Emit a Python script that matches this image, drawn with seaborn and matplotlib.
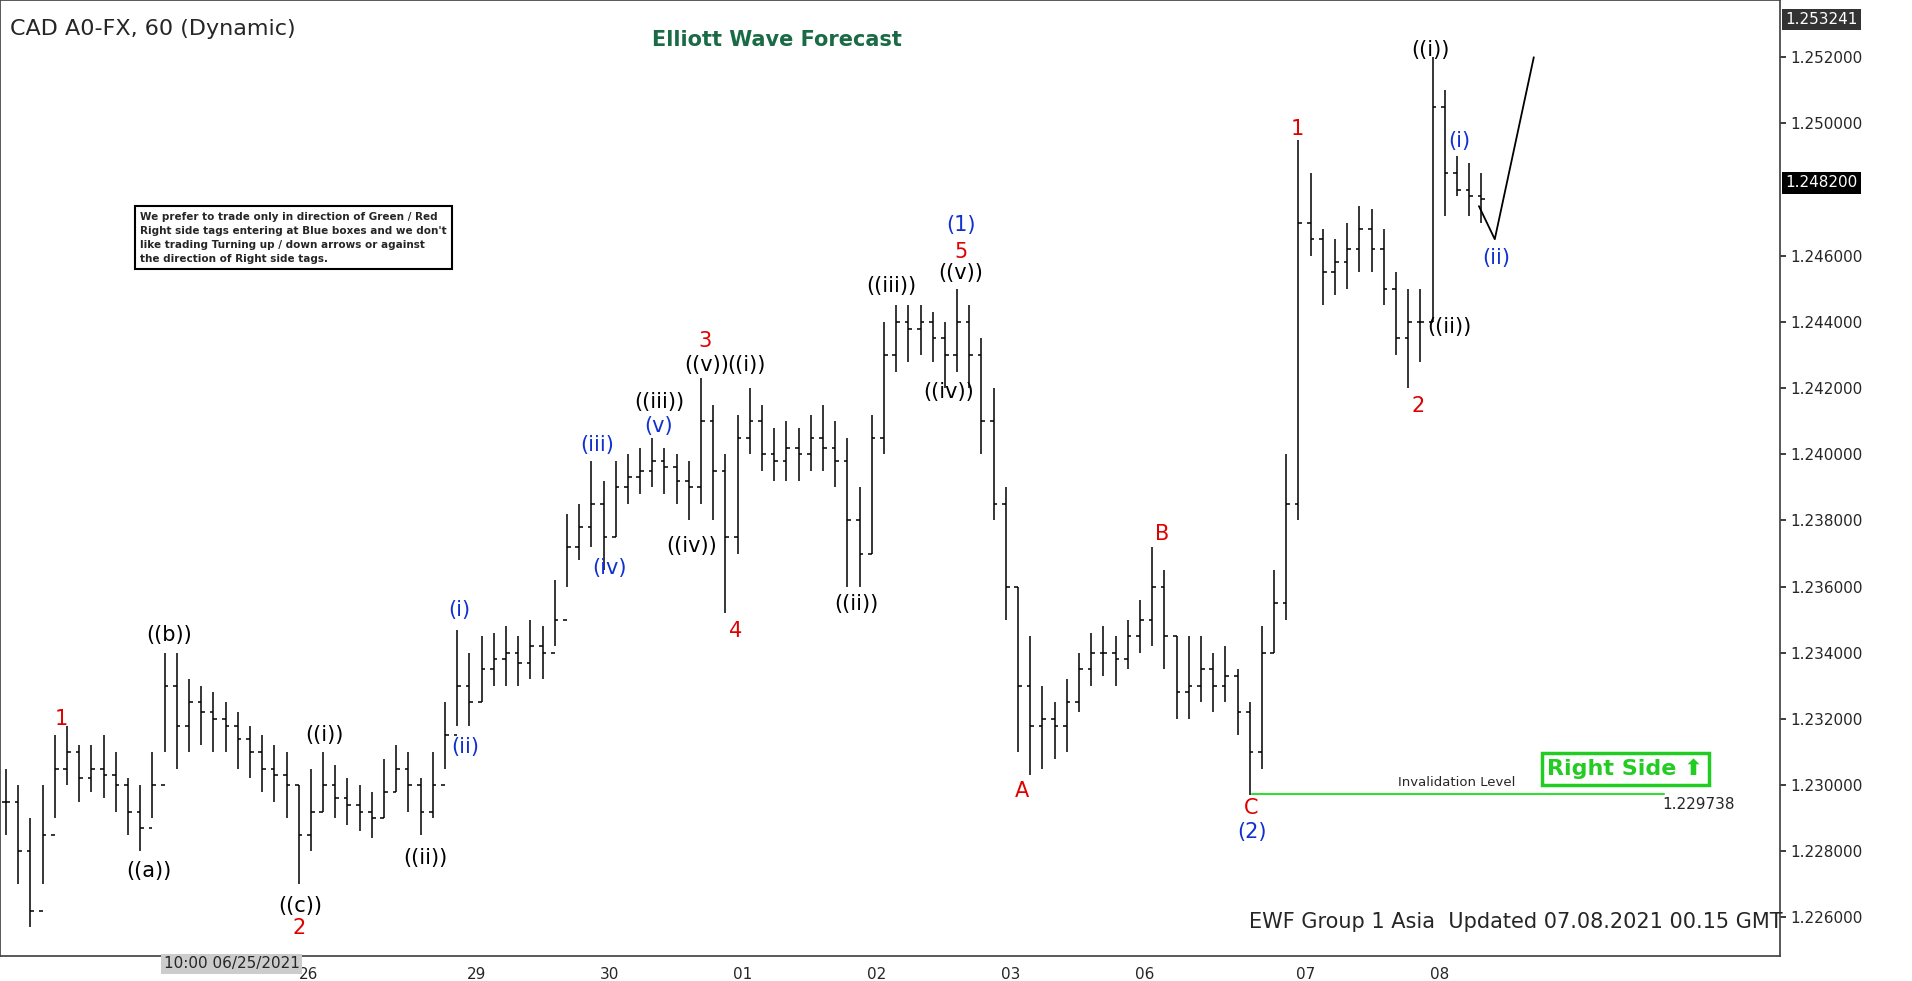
import matplotlib
matplotlib.use("Agg")
import matplotlib.pyplot as plt
import seaborn as sns
import numpy as np
import pandas as pd

sns.set_theme(style="white")
plt.rcParams['font.family'] = ['DejaVu Sans']

# prices in pips above 1.2000 (hourly-ish bars)
closes = [295,280,262,285,305,310,302,305,303,300,292,287,300,330,318,325,322,320,318,314,310,305,303,300,285,292,300,296,294,292,290,298,305,300,292,300,315,330,325,335,338,340,337,342,340,350,372,378,385,375,390,393,395,398,396,392,390,410,395,375,405,410,400,398,402,400,405,402,398,380,370,405,430,440,438,440,435,430,440,430,410,385,360,330,318,320,318,325,335,340,340,338,345,350,360,345,328,330,335,330,333,322,310,340,355,385,470,465,455,458,462,468,462,450,435,440,440,505,485,480,478,477]
highs = [305,300,290,300,315,318,312,312,315,310,302,300,310,340,340,332,330,328,325,322,318,315,312,310,300,305,310,306,302,300,298,308,312,310,302,310,325,347,340,345,346,348,345,350,348,362,382,385,398,392,398,400,402,405,402,400,398,423,415,400,412,420,415,408,410,408,412,415,410,405,390,412,440,445,445,445,443,440,450,445,435,420,390,360,345,330,325,332,340,346,348,345,350,356,372,365,345,345,345,340,342,335,325,348,365,400,495,485,468,465,470,475,474,468,455,450,450,520,510,490,488,485]
lows = [285,270,257,270,290,300,295,298,296,292,285,280,290,310,305,310,312,310,310,305,302,298,295,290,270,280,292,290,288,286,284,290,298,292,285,290,305,318,318,325,330,330,330,332,332,342,360,368,372,365,375,385,388,390,388,385,380,385,380,352,370,400,395,392,392,392,395,395,390,360,360,370,400,425,428,430,428,420,425,420,400,380,350,310,303,305,308,310,322,330,333,330,335,340,342,335,320,320,325,322,325,315,297,305,340,350,380,460,445,448,450,455,455,445,430,420,428,440,472,478,472,470]
n = min(len(closes), len(highs), len(lows))
close = np.array(closes[:n]) / 1e4 + 1.2
high = np.array(highs[:n]) / 1e4 + 1.2
low = np.array(lows[:n]) / 1e4 + 1.2
opn = np.concatenate([[close[0]], close[:-1]])
idx = np.arange(n)

day_labels = ['26', '29', '30', '01', '02', '03', '06', '07', '08']
day_px = [253, 391, 500, 609, 719, 829, 939, 1071, 1181]
price_ticks = [1.226, 1.228, 1.230, 1.232, 1.234, 1.236, 1.238, 1.240, 1.242, 1.244, 1.246, 1.250, 1.252]

labels_red = [('1',50,590),('2',245,762),('3',578,280),('4',603,518),('5',788,207),('A',838,649),('B',953,438),('C',1026,663),('1',1064,106),('2',1163,333)]
labels_black = [('((b))',139,521),('((a))',122,715),('((c))',246,744),('((i))',266,603),('((ii))',349,704),('((iii))',541,330),('((v))',580,300),('((i))',612,300),('((iv))',567,448),('((ii))',702,496),('((iii))',731,235),('((v))',788,224),('((iv))',778,322),('((i))',1173,41),('((ii))',1189,268)]
labels_blue = [('(i)',377,501),('(ii)',382,613),('(iii)',490,365),('(iv)',500,466),('(v)',540,350),('(1)',788,185),('(2)',1027,683),('(i)',1197,116),('(ii)',1227,212)]

proj_px = [1213, 1226, 1258]
proj_price = [1.2475, 1.2465, 1.2520]
invalid = 1.229738

YMIN, YMAX = 1.22482, 1.25373

def px2x(px):
    return (px - 5) / 10.0
def py2y(py):
    return 1.252 - (py - 47) / 27154.0

fig = plt.figure(figsize=(19.12, 9.81), dpi=100)
fig.patch.set_facecolor('white')
ax = fig.add_axes([0.0, 0.025, 0.931, 0.975])
ax.set_facecolor('white')

ax.vlines(idx, low, high, color='black', lw=1.1)
ax.hlines(opn, idx - 0.3, idx, color='black', lw=1.1)
ax.hlines(close, idx, idx + 0.3, color='black', lw=1.1)

sns.lineplot(x=[px2x(p) for p in proj_px], y=proj_price, ax=ax, color='black', lw=1.3, sort=False)
ax.plot([px2x(1027), px2x(1365)], [invalid, invalid], color='#33dd33', lw=1.5)

ax.set_xlim(-0.5, 145.5)
ax.set_ylim(YMIN, YMAX)
ax.yaxis.tick_right()
ax.set_yticks(price_ticks)
ax.set_yticklabels([f'{t:.6f}' for t in price_ticks], fontsize=11)
ax.set_xticks([px2x(p) for p in day_px])
ax.set_xticklabels(day_labels, fontsize=11)
ax.tick_params(axis='both', length=4, direction='out')
for s in ax.spines.values():
    s.set_color('#444444')

for lst, col in [(labels_red, '#e00000'), (labels_black, 'black'), (labels_blue, '#1030d0')]:
    for t, x, y in lst:
        ax.text(px2x(x), py2y(y), t, color=col, fontsize=15, ha='center', va='center')

ax.text(px2x(1195), py2y(642), 'Invalidation Level', fontsize=9.5, ha='center', va='center')
ax.text(px2x(1393), py2y(660), '1.229738', fontsize=11, ha='center', va='center')
ax.text(px2x(1333), py2y(631), 'Right Side \u2b06', fontsize=16, fontweight='bold', color='#22cc22', ha='center', va='center',
        bbox=dict(boxstyle='square,pad=0.25', fc='white', ec='#22cc22', lw=2.5))
ax.text(px2x(8), py2y(24), 'CAD A0-FX, 60 (Dynamic)', fontsize=16, ha='left', va='center')
ax.text(px2x(535), py2y(33), 'Elliott Wave Forecast', fontsize=15, fontweight='bold', color='#1a6b45', ha='left', va='center')
ax.text(px2x(1243), py2y(757), 'EWF Group 1 Asia  Updated 07.08.2021 00.15 GMT', fontsize=15, ha='center', va='center')
ax.text(px2x(115), py2y(195),
        'We prefer to trade only in direction of Green / Red\nRight side tags entering at Blue boxes and we don\'t\nlike trading Turning up / down arrows or against\nthe direction of Right side tags.',
        fontsize=7.5, fontweight='bold', ha='left', va='center', linespacing=1.5,
        bbox=dict(boxstyle='square,pad=0.5', fc='white', ec='black', lw=1.5))
ax.text(px2x(190), YMIN, '10:00 06/25/2021', fontsize=11, ha='center', va='top',
        bbox=dict(boxstyle='square,pad=0.15', fc='#cccccc', ec='none'))
ax.text(1.003, (1.2482 - YMIN) / (YMAX - YMIN), '1.248200', transform=ax.transAxes, fontsize=11,
        color='white', ha='left', va='center', bbox=dict(boxstyle='square,pad=0.2', fc='black', ec='none'))
ax.text(1.003, 0.98, '1.253241', transform=ax.transAxes, fontsize=11,
        color='white', ha='left', va='center', bbox=dict(boxstyle='square,pad=0.2', fc='#333333', ec='none'))

fig.savefig('out.png', dpi=100, facecolor='white')
